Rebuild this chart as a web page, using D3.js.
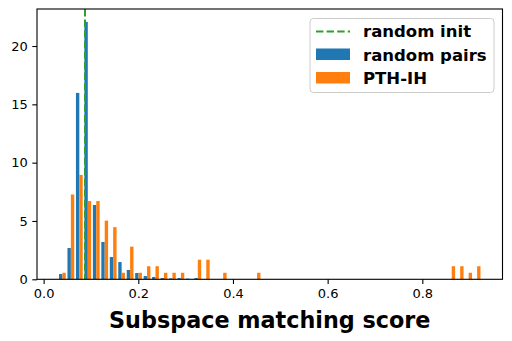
<!DOCTYPE html>
<html>
<head>
<meta charset="utf-8">
<script src="https://cdn.jsdelivr.net/npm/d3@7"></script>
<style>
  html, body { margin: 0; padding: 0; background: #fff; }
  svg { display: block; font-family: "DejaVu Sans", sans-serif; }
</style>
</head>
<body>
<svg id="chart" width="512" height="341"></svg>
<script>
// Histogram bins (density) : 50 equal bins
const binStart = 0.0307;
const binWidth = 0.01788;
const randomPairs = [0.45, 2.68, 15.98, 22.07, 6.37, 3.20, 1.91, 1.48, 0.80, 0.54,
  0.28, 0.20, 0.11, 0.08, 0.11, 0.06, 0.11, 0, 0, 0,
  0, 0, 0, 0, 0, 0, 0, 0, 0, 0,
  0, 0, 0, 0, 0, 0, 0, 0, 0, 0,
  0, 0, 0, 0, 0, 0, 0, 0, 0, 0];
const pthIH = [0.56, 7.27, 8.95, 6.71, 6.71, 5.03, 4.47, 0.56, 2.80, 0.56,
  1.12, 1.12, 0.56, 0.56, 0.56, 0, 1.68, 1.68, 0, 0.56,
  0, 0, 0, 0.56, 0, 0, 0, 0, 0, 0,
  0, 0, 0, 0, 0, 0, 0, 0, 0, 0,
  0, 0, 0, 0, 0, 0, 1.12, 1.12, 0.56, 1.12];
const randomInit = 0.0874;
const xTicks = [0.0, 0.2, 0.4, 0.6, 0.8];
const yTicks = [0, 5, 10, 15, 20];
const seriesNames = ["random init", "random pairs", "PTH-IH"];
const colors = { init: "#2ca02c", pairs: "#1f77b4", pth: "#ff7f0e" };
const xLabel = "Subspace matching score";

const svg = d3.select("#chart");
const L = 37, R = 502.5, T = 9, B = 279.3;

const nb = randomPairs.length;
const lo = binStart, hi = binStart + nb * binWidth;
const mx = 0.05 * (hi - lo);
const x = d3.scaleLinear().domain([lo - mx, hi + mx]).range([L, R]);
const ymaxData = d3.max(randomPairs.concat(pthIH));
const y = d3.scaleLinear().domain([0, ymaxData * 1.05]).range([B, T]);

const bins = d3.range(nb).map(i => ({
  i, e: binStart + i * binWidth, a: randomPairs[i], b: pthIH[i]
}));

const g = svg.append("g");
// blue bars
g.selectAll("rect.pairs").data(bins.filter(d => d.a > 0)).join("rect")
  .attr("x", d => x(d.e + 0.1 * binWidth))
  .attr("width", d => x(d.e + 0.5 * binWidth) - x(d.e + 0.1 * binWidth))
  .attr("y", d => y(d.a))
  .attr("height", d => y(0) - y(d.a))
  .attr("fill", colors.pairs);
// orange bars
g.selectAll("rect.pth").data(bins.filter(d => d.b > 0)).join("rect")
  .attr("x", d => x(d.e + 0.5 * binWidth))
  .attr("width", d => x(d.e + 0.9 * binWidth) - x(d.e + 0.5 * binWidth))
  .attr("y", d => y(d.b))
  .attr("height", d => y(0) - y(d.b))
  .attr("fill", colors.pth);

// vertical dashed line
svg.append("line")
  .attr("x1", x(randomInit)).attr("x2", x(randomInit))
  .attr("y1", T).attr("y2", B)
  .attr("stroke", colors.init).attr("stroke-width", 2)
  .attr("stroke-dasharray", "7.4,3.2");

// axes
const xAxis = d3.axisBottom(x).tickValues(xTicks).tickFormat(d3.format(".1f")).tickSize(4.7).tickPadding(4.5);
const yAxis = d3.axisLeft(y).tickValues(yTicks).tickFormat(d3.format("d")).tickSize(4.7).tickPadding(4.5);
const gx = svg.append("g").attr("transform", `translate(0,${B})`).call(xAxis);
const gy = svg.append("g").attr("transform", `translate(${L},0)`).call(yAxis);
[gx, gy].forEach(a => {
  a.select(".domain").remove();
  a.selectAll("line").attr("stroke", "#000").attr("stroke-width", 1.1);
  a.selectAll("text").attr("font-family", "DejaVu Sans").attr("font-size", 13).attr("fill", "#000");
});

// frame
svg.append("rect").attr("x", L).attr("y", T).attr("width", R - L).attr("height", B - T)
  .attr("fill", "none").attr("stroke", "#000").attr("stroke-width", 1.1);

// x label
svg.append("text").attr("x", (L + R) / 2).attr("y", 328)
  .attr("text-anchor", "middle").attr("font-weight", "bold").attr("font-size", 22.3)
  .attr("fill", "#000").text(xLabel);

// legend
const lg = svg.append("g");
lg.append("rect").attr("x", 310).attr("y", 18.5).attr("width", 184).attr("height", 74)
  .attr("rx", 3.5).attr("fill", "#fff").attr("fill-opacity", 0.8)
  .attr("stroke", "#cccccc").attr("stroke-width", 1);
const rows = [37, 60.5, 84];
lg.append("line").attr("x1", 316).attr("x2", 350).attr("y1", 31.5).attr("y2", 31.5)
  .attr("stroke", colors.init).attr("stroke-width", 2).attr("stroke-dasharray", "7.4,3.2");
lg.append("rect").attr("x", 316).attr("y", 48.5).attr("width", 34).attr("height", 11.5).attr("fill", colors.pairs);
lg.append("rect").attr("x", 316).attr("y", 72).attr("width", 34).attr("height", 11.5).attr("fill", colors.pth);
lg.selectAll("text.lab").data(seriesNames).join("text")
  .attr("x", 363).attr("y", (d, i) => rows[i])
  .attr("font-weight", "bold").attr("font-size", 16.5).attr("fill", "#000")
  .text(d => d);
</script>
</body>
</html>
